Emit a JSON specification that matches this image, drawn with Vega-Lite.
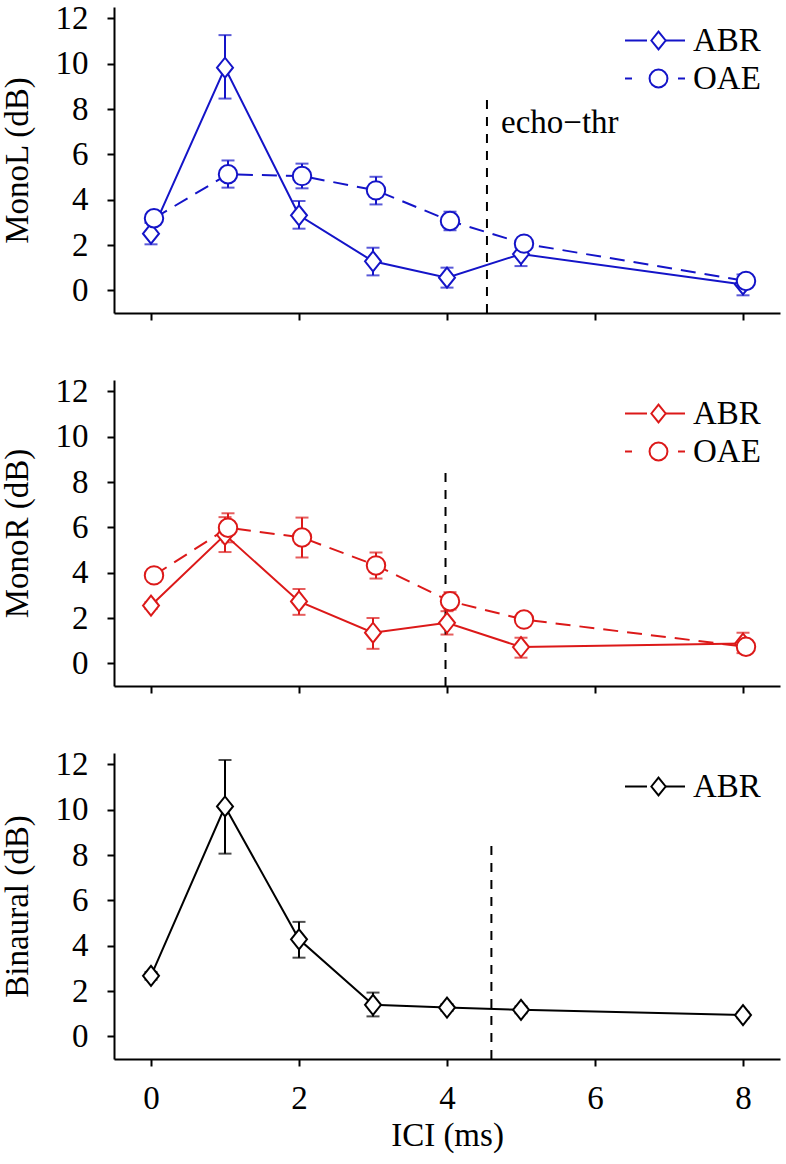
{
  "$schema": "https://vega.github.io/schema/vega-lite/v6.json",
  "padding": {"left": 1, "top": 2, "right": 5, "bottom": 3},
  "bounds": "flush",
  "spacing": 67,
  "background": "white",
  "datasets": {
    "pts": [
      {"p": "L", "s": "ABR", "ici": 0, "v": 2.5, "lo": 2.03, "hi": 2.97},
      {"p": "L", "s": "ABR", "ici": 1, "v": 9.82, "lo": 8.46, "hi": 11.26},
      {"p": "L", "s": "ABR", "ici": 2, "v": 3.31, "lo": 2.72, "hi": 3.94},
      {"p": "L", "s": "ABR", "ici": 3, "v": 1.28, "lo": 0.66, "hi": 1.88},
      {"p": "L", "s": "ABR", "ici": 4, "v": 0.56, "lo": 0.12, "hi": 1.0},
      {"p": "L", "s": "ABR", "ici": 5, "v": 1.6, "lo": 1.07, "hi": 2.1},
      {"p": "L", "s": "ABR", "ici": 8, "v": 0.26, "lo": -0.22, "hi": 0.7},
      {"p": "L", "s": "OAE", "ici": 0, "v": 3.18, "lo": 3.0, "hi": 3.36},
      {"p": "L", "s": "OAE", "ici": 1, "v": 5.12, "lo": 4.53, "hi": 5.73},
      {"p": "L", "s": "OAE", "ici": 2, "v": 5.04, "lo": 4.5, "hi": 5.59},
      {"p": "L", "s": "OAE", "ici": 3, "v": 4.41, "lo": 3.79, "hi": 5.01},
      {"p": "L", "s": "OAE", "ici": 4, "v": 3.06, "lo": 2.65, "hi": 3.47},
      {"p": "L", "s": "OAE", "ici": 5, "v": 2.06, "lo": 1.9, "hi": 2.22},
      {"p": "L", "s": "OAE", "ici": 8, "v": 0.41, "lo": 0.25, "hi": 0.57},
      {"p": "R", "s": "ABR", "ici": 0, "v": 2.55, "lo": 2.4, "hi": 2.7},
      {"p": "R", "s": "ABR", "ici": 1, "v": 5.67, "lo": 4.91, "hi": 6.45},
      {"p": "R", "s": "ABR", "ici": 2, "v": 2.73, "lo": 2.14, "hi": 3.28},
      {"p": "R", "s": "ABR", "ici": 3, "v": 1.35, "lo": 0.64, "hi": 2.0},
      {"p": "R", "s": "ABR", "ici": 4, "v": 1.79, "lo": 1.27, "hi": 2.3},
      {"p": "R", "s": "ABR", "ici": 5, "v": 0.72, "lo": 0.25, "hi": 1.13},
      {"p": "R", "s": "ABR", "ici": 8, "v": 0.87, "lo": 0.45, "hi": 1.35},
      {"p": "R", "s": "OAE", "ici": 0, "v": 3.88, "lo": 3.73, "hi": 4.03},
      {"p": "R", "s": "OAE", "ici": 1, "v": 5.98, "lo": 5.34, "hi": 6.62},
      {"p": "R", "s": "OAE", "ici": 2, "v": 5.55, "lo": 4.67, "hi": 6.43},
      {"p": "R", "s": "OAE", "ici": 3, "v": 4.32, "lo": 3.74, "hi": 4.89},
      {"p": "R", "s": "OAE", "ici": 4, "v": 2.74, "lo": 2.37, "hi": 3.14},
      {"p": "R", "s": "OAE", "ici": 5, "v": 1.93, "lo": 1.78, "hi": 2.08},
      {"p": "R", "s": "OAE", "ici": 8, "v": 0.73, "lo": 0.58, "hi": 0.88},
      {"p": "B", "s": "ABR", "ici": 0, "v": 2.67, "lo": 2.5, "hi": 2.84},
      {"p": "B", "s": "ABR", "ici": 1, "v": 10.14, "lo": 8.06, "hi": 12.19},
      {"p": "B", "s": "ABR", "ici": 2, "v": 4.28, "lo": 3.47, "hi": 5.05},
      {"p": "B", "s": "ABR", "ici": 3, "v": 1.39, "lo": 0.88, "hi": 1.93},
      {"p": "B", "s": "ABR", "ici": 4, "v": 1.27, "lo": 1.12, "hi": 1.42},
      {"p": "B", "s": "ABR", "ici": 5, "v": 1.17, "lo": 1.02, "hi": 1.32},
      {"p": "B", "s": "ABR", "ici": 8, "v": 0.94, "lo": 0.8, "hi": 1.08}
    ],
    "thr": [
      {"p": "L", "ici": 4.54, "top": 8.4, "bot": -1},
      {"p": "R", "ici": 3.98, "top": 8.4, "bot": -1},
      {"p": "B", "ici": 4.6, "top": 8.4, "bot": -1}
    ]
  },
  "vconcat": [
    {
      "width": 666, "height": 306,
      "encoding": {
        "x": {"field": "ici", "type": "quantitative", "scale": {"domain": [-0.5, 8.5], "nice": false, "zero": false}, "axis": {"values": [0, 2, 4, 6, 8], "labels": false}, "title": null},
        "y": {"field": "v", "type": "quantitative", "scale": {"domain": [-1, 12.5], "nice": false, "zero": false}, "axis": {"values": [0, 2, 4, 6, 8, 10, 12]}, "title": "MonoL (dB)"}
      },
      "layer": [
        {"data": {"name": "thr"}, "transform": [{"filter": "datum.p === 'L'"}],
         "mark": {"type": "rule", "color": "black", "strokeWidth": 2, "strokeDash": [9, 8]},
         "encoding": {"y": {"field": "top", "type": "quantitative", "scale": {"domain": [-1, 12.5], "nice": false, "zero": false}, "title": "MonoL (dB)"}, "y2": {"field": "bot"}}},
        {"data": {"values": [{"ici": 4.73, "v": 6.96, "t": "echo−thr"}]},
         "mark": {"type": "text", "align": "left", "baseline": "alphabetic", "font": "Liberation Serif", "fontSize": 33, "color": "black"},
         "encoding": {"text": {"field": "t"}}},
        {"data": {"name": "pts"}, "transform": [{"filter": "datum.p === 'none'"}],
         "mark": {"type": "line", "color": "#1414C8", "strokeWidth": 2},
         "encoding": {"strokeDash": {"field": "s", "type": "nominal", "scale": {"domain": ["ABR", "OAE"], "range": [[22, 16, 22], [7, 46, 7]]},
           "legend": {"title": null, "orient": "none", "legendX": 510, "legendY": 17, "padding": 0, "symbolType": "stroke", "symbolSize": 3600, "clipHeight": 33, "rowPadding": 4, "symbolStrokeWidth": 2, "symbolStrokeColor": "#1414C8", "labelFont": "Liberation Serif", "labelFontSize": 33, "labelOpacity": 0}}}},
        {"data": {"name": "pts"}, "transform": [{"filter": "datum.p === 'L' && datum.s === 'OAE'"}],
         "mark": {"type": "line", "color": "#1414C8", "strokeWidth": 2, "strokeDash": [15, 9], "xOffset": 3}},
        {"data": {"name": "pts"}, "transform": [{"filter": "datum.p === 'L' && datum.s === 'ABR'"}],
         "mark": {"type": "line", "color": "#1414C8", "strokeWidth": 2}},
        {"data": {"name": "pts"}, "transform": [{"filter": "datum.p === 'L' && datum.s === 'ABR'"}],
         "mark": {"type": "rule", "color": "#1414C8", "strokeWidth": 2},
         "encoding": {"y": {"field": "lo", "type": "quantitative", "scale": {"domain": [-1, 12.5], "nice": false, "zero": false}, "title": "MonoL (dB)"}, "y2": {"field": "hi"}}},
        {"data": {"name": "pts"}, "transform": [{"filter": "datum.p === 'L' && datum.s === 'ABR'"}, {"fold": ["lo", "hi"], "as": ["k", "ev"]}],
         "mark": {"type": "tick", "orient": "horizontal", "color": "#1414C8", "size": 13, "thickness": 2},
         "encoding": {"y": {"field": "ev", "type": "quantitative", "scale": {"domain": [-1, 12.5], "nice": false, "zero": false}, "title": "MonoL (dB)"}}},
        {"data": {"name": "pts"}, "transform": [{"filter": "datum.p === 'L' && datum.s === 'OAE'"}],
         "mark": {"type": "rule", "color": "#1414C8", "strokeWidth": 2, "xOffset": 3},
         "encoding": {"y": {"field": "lo", "type": "quantitative", "scale": {"domain": [-1, 12.5], "nice": false, "zero": false}, "title": "MonoL (dB)"}, "y2": {"field": "hi"}}},
        {"data": {"name": "pts"}, "transform": [{"filter": "datum.p === 'L' && datum.s === 'OAE'"}, {"fold": ["lo", "hi"], "as": ["k", "ev"]}],
         "mark": {"type": "tick", "orient": "horizontal", "color": "#1414C8", "size": 13, "thickness": 2, "xOffset": 3},
         "encoding": {"y": {"field": "ev", "type": "quantitative", "scale": {"domain": [-1, 12.5], "nice": false, "zero": false}, "title": "MonoL (dB)"}}},
        {"data": {"name": "pts"}, "transform": [{"filter": "datum.p === 'L' && datum.s === 'ABR'"}],
         "mark": {"type": "point", "filled": true, "fill": "white", "stroke": "#1414C8", "strokeWidth": 2, "size": 400, "opacity": 1},
         "encoding": {"shape": {"field": "s", "type": "nominal", "scale": {"range": ["M-0.8,0L0,-1L0.8,0L0,1Z", "circle"]},
           "legend": {"title": null, "orient": "none", "legendX": 528, "legendY": 17, "padding": 0, "labelFont": "Liberation Serif", "labelFontSize": 33, "labelColor": "black", "labelOffset": 18, "rowPadding": 4, "symbolSize": 320, "symbolStrokeWidth": 2}}}},
        {"data": {"name": "pts"}, "transform": [{"filter": "datum.p === 'L' && datum.s === 'OAE'"}],
         "mark": {"type": "point", "filled": true, "fill": "white", "stroke": "#1414C8", "strokeWidth": 2, "size": 340, "opacity": 1, "xOffset": 3},
         "encoding": {"shape": {"field": "s", "type": "nominal", "scale": {"range": ["M-0.8,0L0,-1L0.8,0L0,1Z", "circle"]}}}}
      ]
    },
    {
      "width": 666, "height": 306,
      "encoding": {
        "x": {"field": "ici", "type": "quantitative", "scale": {"domain": [-0.5, 8.5], "nice": false, "zero": false}, "axis": {"values": [0, 2, 4, 6, 8], "labels": false}, "title": null},
        "y": {"field": "v", "type": "quantitative", "scale": {"domain": [-1, 12.5], "nice": false, "zero": false}, "axis": {"values": [0, 2, 4, 6, 8, 10, 12]}, "title": "MonoR (dB)"}
      },
      "layer": [
        {"data": {"name": "thr"}, "transform": [{"filter": "datum.p === 'R'"}],
         "mark": {"type": "rule", "color": "black", "strokeWidth": 2, "strokeDash": [9, 8]},
         "encoding": {"y": {"field": "top", "type": "quantitative", "scale": {"domain": [-1, 12.5], "nice": false, "zero": false}, "title": "MonoR (dB)"}, "y2": {"field": "bot"}}},
        {"data": {"name": "pts"}, "transform": [{"filter": "datum.p === 'none'"}],
         "mark": {"type": "line", "color": "#DC1919", "strokeWidth": 2},
         "encoding": {"strokeDash": {"field": "s", "type": "nominal", "scale": {"domain": ["ABR", "OAE"], "range": [[22, 16, 22], [7, 46, 7]]},
           "legend": {"title": null, "orient": "none", "legendX": 510, "legendY": 17, "padding": 0, "symbolType": "stroke", "symbolSize": 3600, "clipHeight": 33, "rowPadding": 4, "symbolStrokeWidth": 2, "symbolStrokeColor": "#DC1919", "labelFont": "Liberation Serif", "labelFontSize": 33, "labelOpacity": 0}}}},
        {"data": {"name": "pts"}, "transform": [{"filter": "datum.p === 'R' && datum.s === 'OAE'"}],
         "mark": {"type": "line", "color": "#DC1919", "strokeWidth": 2, "strokeDash": [15, 9], "xOffset": 3}},
        {"data": {"name": "pts"}, "transform": [{"filter": "datum.p === 'R' && datum.s === 'ABR'"}],
         "mark": {"type": "line", "color": "#DC1919", "strokeWidth": 2}},
        {"data": {"name": "pts"}, "transform": [{"filter": "datum.p === 'R' && datum.s === 'ABR'"}],
         "mark": {"type": "rule", "color": "#DC1919", "strokeWidth": 2},
         "encoding": {"y": {"field": "lo", "type": "quantitative", "scale": {"domain": [-1, 12.5], "nice": false, "zero": false}, "title": "MonoR (dB)"}, "y2": {"field": "hi"}}},
        {"data": {"name": "pts"}, "transform": [{"filter": "datum.p === 'R' && datum.s === 'ABR'"}, {"fold": ["lo", "hi"], "as": ["k", "ev"]}],
         "mark": {"type": "tick", "orient": "horizontal", "color": "#DC1919", "size": 13, "thickness": 2},
         "encoding": {"y": {"field": "ev", "type": "quantitative", "scale": {"domain": [-1, 12.5], "nice": false, "zero": false}, "title": "MonoR (dB)"}}},
        {"data": {"name": "pts"}, "transform": [{"filter": "datum.p === 'R' && datum.s === 'OAE'"}],
         "mark": {"type": "rule", "color": "#DC1919", "strokeWidth": 2, "xOffset": 3},
         "encoding": {"y": {"field": "lo", "type": "quantitative", "scale": {"domain": [-1, 12.5], "nice": false, "zero": false}, "title": "MonoR (dB)"}, "y2": {"field": "hi"}}},
        {"data": {"name": "pts"}, "transform": [{"filter": "datum.p === 'R' && datum.s === 'OAE'"}, {"fold": ["lo", "hi"], "as": ["k", "ev"]}],
         "mark": {"type": "tick", "orient": "horizontal", "color": "#DC1919", "size": 13, "thickness": 2, "xOffset": 3},
         "encoding": {"y": {"field": "ev", "type": "quantitative", "scale": {"domain": [-1, 12.5], "nice": false, "zero": false}, "title": "MonoR (dB)"}}},
        {"data": {"name": "pts"}, "transform": [{"filter": "datum.p === 'R' && datum.s === 'ABR'"}],
         "mark": {"type": "point", "filled": true, "fill": "white", "stroke": "#DC1919", "strokeWidth": 2, "size": 400, "opacity": 1},
         "encoding": {"shape": {"field": "s", "type": "nominal", "scale": {"range": ["M-0.8,0L0,-1L0.8,0L0,1Z", "circle"]},
           "legend": {"title": null, "orient": "none", "legendX": 528, "legendY": 17, "padding": 0, "labelFont": "Liberation Serif", "labelFontSize": 33, "labelColor": "black", "labelOffset": 18, "rowPadding": 4, "symbolSize": 320, "symbolStrokeWidth": 2}}}},
        {"data": {"name": "pts"}, "transform": [{"filter": "datum.p === 'R' && datum.s === 'OAE'"}],
         "mark": {"type": "point", "filled": true, "fill": "white", "stroke": "#DC1919", "strokeWidth": 2, "size": 340, "opacity": 1, "xOffset": 3},
         "encoding": {"shape": {"field": "s", "type": "nominal", "scale": {"range": ["M-0.8,0L0,-1L0.8,0L0,1Z", "circle"]}}}}
      ]
    },
    {
      "width": 666, "height": 306,
      "encoding": {
        "x": {"field": "ici", "type": "quantitative", "scale": {"domain": [-0.5, 8.5], "nice": false, "zero": false}, "axis": {"values": [0, 2, 4, 6, 8]}, "title": "ICI (ms)"},
        "y": {"field": "v", "type": "quantitative", "scale": {"domain": [-1, 12.5], "nice": false, "zero": false}, "axis": {"values": [0, 2, 4, 6, 8, 10, 12]}, "title": "Binaural (dB)"}
      },
      "layer": [
        {"data": {"name": "thr"}, "transform": [{"filter": "datum.p === 'B'"}],
         "mark": {"type": "rule", "color": "black", "strokeWidth": 2, "strokeDash": [9, 8]},
         "encoding": {"y": {"field": "top", "type": "quantitative", "scale": {"domain": [-1, 12.5], "nice": false, "zero": false}, "title": "Binaural (dB)"}, "y2": {"field": "bot"}}},
        {"data": {"name": "pts"}, "transform": [{"filter": "datum.p === 'none'"}],
         "mark": {"type": "line", "color": "black", "strokeWidth": 2},
         "encoding": {"strokeDash": {"field": "s", "type": "nominal", "scale": {"domain": ["ABR"], "range": [[22, 16, 22]]},
           "legend": {"title": null, "orient": "none", "legendX": 510, "legendY": 17, "padding": 0, "symbolType": "stroke", "symbolSize": 3600, "clipHeight": 33, "rowPadding": 4, "symbolStrokeWidth": 2, "symbolStrokeColor": "black", "labelFont": "Liberation Serif", "labelFontSize": 33, "labelOpacity": 0}}}},
        {"data": {"name": "pts"}, "transform": [{"filter": "datum.p === 'B' && datum.s === 'ABR'"}],
         "mark": {"type": "line", "color": "black", "strokeWidth": 2}},
        {"data": {"name": "pts"}, "transform": [{"filter": "datum.p === 'B' && datum.s === 'ABR'"}],
         "mark": {"type": "rule", "color": "black", "strokeWidth": 2},
         "encoding": {"y": {"field": "lo", "type": "quantitative", "scale": {"domain": [-1, 12.5], "nice": false, "zero": false}, "title": "Binaural (dB)"}, "y2": {"field": "hi"}}},
        {"data": {"name": "pts"}, "transform": [{"filter": "datum.p === 'B' && datum.s === 'ABR'"}, {"fold": ["lo", "hi"], "as": ["k", "ev"]}],
         "mark": {"type": "tick", "orient": "horizontal", "color": "black", "size": 13, "thickness": 2},
         "encoding": {"y": {"field": "ev", "type": "quantitative", "scale": {"domain": [-1, 12.5], "nice": false, "zero": false}, "title": "Binaural (dB)"}}},
        {"data": {"name": "pts"}, "transform": [{"filter": "datum.p === 'B' && datum.s === 'ABR'"}],
         "mark": {"type": "point", "filled": true, "fill": "white", "stroke": "black", "strokeWidth": 2, "size": 400, "opacity": 1},
         "encoding": {"shape": {"field": "s", "type": "nominal", "scale": {"range": ["M-0.8,0L0,-1L0.8,0L0,1Z"]},
           "legend": {"title": null, "orient": "none", "legendX": 528, "legendY": 17, "padding": 0, "labelFont": "Liberation Serif", "labelFontSize": 33, "labelColor": "black", "labelOffset": 18, "rowPadding": 4, "symbolSize": 320, "symbolStrokeWidth": 2}}}}
      ]
    }
  ],
  "resolve": {"scale": {"shape": "independent", "strokeDash": "independent", "x": "independent", "y": "independent"}, "legend": {"shape": "independent", "strokeDash": "independent"}},
  "config": {
    "view": {"stroke": null},
    "axis": {"grid": false, "domainColor": "black", "domainWidth": 2, "tickColor": "black", "tickWidth": 2, "tickSize": 7, "labelFont": "Liberation Serif", "labelFontSize": 33, "labelColor": "black", "titleFont": "Liberation Serif", "titleFontSize": 33, "titleFontWeight": "normal", "titleColor": "black", "labelFlush": false, "labelOverlap": false, "labelBound": false},
    "axisY": {"labelPadding": 19, "titlePadding": 21},
    "axisX": {"labelPadding": 16, "titlePadding": 4}
  }
}
